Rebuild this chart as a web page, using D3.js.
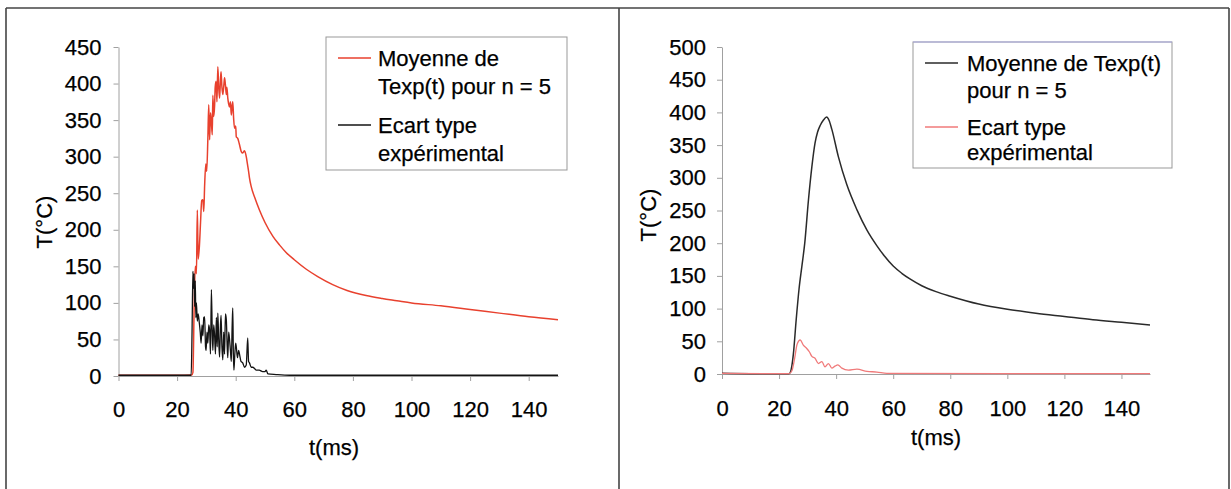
<!DOCTYPE html>
<html>
<head>
<meta charset="utf-8">
<script src="https://cdn.jsdelivr.net/npm/d3@7"></script>
<style>
  body { margin: 0; background: #fff; }
  svg { display: block; }
  text { font-family: "Liberation Sans", Arial, sans-serif; font-size: 22px; fill: #000; stroke: #000; stroke-width: 0.25px; }
  .axis path, .axis line { stroke: #a0a0a0; }
</style>
</head>
<body>
<svg width="1231" height="489"></svg>
<script>
// tick values
const ticksX = [0, 20, 40, 60, 80, 100, 120, 140];
const ticksYLeft = [0, 50, 100, 150, 200, 250, 300, 350, 400, 450];
const ticksYRight = [0, 50, 100, 150, 200, 250, 300, 350, 400, 450, 500];

// left chart : mean (red, noisy) - [t (ms), T (°C)]
const meanLeft = [
  [0, 1], [10, 1], [20, 1], [25, 1.5], [25.4, 5], [25.8, 90], [26.2, 150], [26.6, 140],
  [26.9, 227], [27.2, 160], [27.6, 177], [28.0, 210], [28.4, 240], [28.8, 241], [29.1, 225],
  [29.4, 261], [29.8, 290], [30.1, 280], [30.5, 325], [30.8, 371], [31.1, 323], [31.4, 360],
  [31.7, 348], [32.0, 330], [32.2, 384], [32.5, 355], [32.8, 370], [33.0, 395], [33.3, 403],
  [33.6, 375], [33.9, 423], [34.2, 395], [34.5, 380], [34.8, 405], [35.0, 416], [35.3, 395],
  [35.6, 385], [36.0, 400], [36.2, 408], [36.5, 398], [36.8, 385], [37.0, 395], [37.3, 380],
  [37.6, 372], [37.9, 368], [38.2, 375], [38.5, 357], [38.8, 370], [39.0, 375], [39.3, 352],
  [39.6, 339], [40.0, 342], [40.2, 327], [40.7, 325], [41.2, 318], [41.9, 307], [42.4, 305],
  [43.0, 308], [43.6, 300], [44.0, 290], [44.4, 280], [44.7, 271], [45.3, 259], [46.5, 244],
  [48.1, 227], [50, 210], [52.7, 191], [55, 179], [57.2, 169], [60, 159], [64.1, 146],
  [68, 136], [73.1, 125], [78, 117], [84.5, 110], [90, 106], [95, 103], [100, 100],
  [110, 96], [120, 91], [130, 86], [140, 81], [150, 77]
];

// left chart : standard deviation (black, noisy)
const stdLeft = [
  [0, 1], [24.8, 1], [25.1, 60], [25.4, 143], [25.6, 120], [25.8, 140], [26.0, 95], [26.2, 130],
  [26.4, 80], [26.6, 100], [26.9, 75], [27.2, 85], [27.6, 72], [27.9, 60], [28.2, 45], [28.5, 70],
  [28.8, 55], [29.1, 80], [29.4, 81], [29.7, 40], [29.9, 35], [30.2, 60], [30.5, 45], [30.8, 70],
  [31.1, 62], [31.4, 30], [31.7, 118], [32.0, 60], [32.2, 35], [32.5, 70], [32.8, 55], [33.1, 30],
  [33.4, 80], [33.7, 40], [33.9, 86], [34.2, 50], [34.5, 26], [34.8, 70], [35.0, 83], [35.3, 40],
  [35.6, 22], [35.9, 60], [36.2, 30], [36.5, 85], [36.8, 77], [37.1, 40], [37.3, 25], [37.6, 60],
  [37.9, 50], [38.2, 35], [38.5, 20], [38.8, 70], [39.0, 93], [39.2, 30], [39.4, 8], [39.7, 30],
  [40.0, 45], [40.2, 40], [40.6, 25], [41.0, 35], [41.3, 30], [41.8, 20], [42.4, 18], [43.0, 12],
  [43.6, 15], [44.1, 52], [44.4, 20], [44.7, 18], [45.3, 12], [45.8, 12], [46.5, 10], [47.0, 8],
  [48.0, 8], [49.2, 6], [50.0, 6], [50.4, 8], [51, 3], [53.8, 2], [58.4, 1], [150, 1]
];

// right chart : mean (black, smooth)
const meanRight = [
  [0, 1], [10, 0.5], [23.5, 0.5], [24, 3], [25, 30], [26, 83], [27, 130], [28, 165], [29, 200],
  [30.3, 266], [31.5, 317], [32.6, 353], [33.5, 370], [34.4, 380], [35.5, 388], [36.7, 393],
  [37.5, 388], [38.5, 374], [40.8, 332], [43.7, 290], [47.3, 251], [50.8, 220], [54.3, 196],
  [57, 180], [60, 165], [63, 154], [66, 145], [70, 135], [75, 126], [80, 119], [90, 107],
  [100, 99], [110, 93], [120, 88], [130, 83], [140, 79], [150, 75]
];

// right chart : standard deviation (light red)
const stdRight = [
  [0, 1], [23.5, 0.5], [24.5, 5], [25.5, 25], [26.3, 45], [27.4, 52], [28.5, 44], [29.7, 39],
  [30.6, 34], [31.5, 27], [32.6, 24], [33.8, 16], [35.0, 19], [36.1, 11], [37.3, 16], [38.5, 9],
  [39.6, 12], [40.6, 14], [42.0, 9], [44.3, 6], [47.3, 7.5], [50.8, 4], [54.3, 3], [57.8, 1], [150, 0.5]
];

const svg = d3.select("svg");

// panel frames
const frame = svg.append("g").attr("fill", "none").attr("stroke", "#444").attr("stroke-width", 1.6);
frame.append("line").attr("x1", 6).attr("x2", 1229).attr("y1", 8).attr("y2", 8);
[6, 619, 1229].forEach((x) => {
  frame.append("line").attr("x1", x).attr("x2", x).attr("y1", 8).attr("y2", 489);
});

const drawPanel = (p) => {
  const scaleX = d3.scaleLinear().domain([0, 150]).range(p.rangeX);
  const scaleY = d3.scaleLinear().domain([0, p.maxY]).range(p.rangeY);

  //prettier-ignore
  svg.append("g")
    .attr("class", "axis")
    .attr("transform", `translate(0,${p.rangeY[0]})`)
    .call(d3.axisBottom(scaleX).tickValues(ticksX).tickSize(5).tickSizeOuter(0).tickPadding(p.padX))
    .call((g) => g.selectAll("text").attr("font-size", null).attr("font-family", null).attr("fill", null));

  //prettier-ignore
  svg.append("g")
    .attr("class", "axis")
    .attr("transform", `translate(${p.rangeX[0]},0)`)
    .call(d3.axisLeft(scaleY).tickValues(p.ticksY).tickSize(5).tickSizeOuter(0).tickPadding(p.padY))
    .call((g) => g.selectAll("text").attr("font-size", null).attr("font-family", null).attr("fill", null));

  //prettier-ignore
  const line = d3.line()
    .curve(d3.curveMonotoneX)
    .x((d) => scaleX(d[0]))
    .y((d) => scaleY(d[1]));

  p.series.forEach((s) => {
    //prettier-ignore
    svg.append("path")
      .datum(s.data)
      .attr("fill", "none")
      .attr("stroke", s.color)
      .attr("stroke-width", s.width)
      .attr("stroke-linejoin", "round")
      .attr("d", line);
  });

  // axis titles
  //prettier-ignore
  svg.append("text")
    .attr("text-anchor", "middle")
    .attr("dominant-baseline", "central")
    .attr("transform", `translate(${p.titleY[0]},${p.titleY[1]}) rotate(-90)`)
    .text("T(°C)");

  //prettier-ignore
  svg.append("text")
    .attr("text-anchor", "middle")
    .attr("dominant-baseline", "central")
    .attr("x", p.titleX[0])
    .attr("y", p.titleX[1])
    .text("t(ms)");

  // legend
  const lg = p.legend;
  //prettier-ignore
  svg.append("rect")
    .attr("x", lg.x).attr("y", lg.y)
    .attr("width", lg.w).attr("height", lg.h)
    .attr("fill", "#fff")
    .attr("stroke", "#999");
  if (lg.topColor) {
    svg.append("line").attr("x1", lg.x).attr("x2", lg.x + lg.w).attr("y1", lg.y).attr("y2", lg.y).attr("stroke", lg.topColor);
  }
  p.series.forEach((s, i) => {
    const rowY = lg.rows[i * 2];
    //prettier-ignore
    svg.append("line")
      .attr("x1", lg.x + 12).attr("x2", lg.x + 45)
      .attr("y1", rowY).attr("y2", rowY)
      .attr("stroke", s.color)
      .attr("stroke-width", s.width);
  });
  lg.labels.forEach((t, i) => {
    //prettier-ignore
    svg.append("text")
      .attr("x", lg.textX)
      .attr("y", lg.rows[i])
      .attr("dominant-baseline", "central")
      .text(t);
  });
};

drawPanel({
  rangeX: [118.5, 558],
  rangeY: [376, 47],
  maxY: 450,
  ticksY: ticksYLeft,
  padX: 20,
  padY: 12,
  titleY: [44, 222],
  titleX: [334, 447],
  series: [
    { data: meanLeft, color: "#e8412e", width: 1.5 },
    { data: stdLeft, color: "#141414", width: 1.3 }
  ],
  legend: {
    x: 326, y: 37, w: 241, h: 133, textX: 378,
    rows: [58, 86, 125, 153],
    labels: ["Moyenne de", "Texp(t) pour n = 5", "Ecart type", "expérimental"]
  }
});

drawPanel({
  rangeX: [722, 1150],
  rangeY: [374, 47],
  maxY: 500,
  ticksY: ticksYRight,
  padX: 21,
  padY: 11,
  titleY: [648, 215],
  titleX: [936, 437],
  series: [
    { data: meanRight, color: "#2a2a2a", width: 1.5 },
    { data: stdRight, color: "#f07a7a", width: 1.3 }
  ],
  legend: {
    x: 913, y: 42, w: 259, h: 126, textX: 967, topColor: "#a9a9e0",
    rows: [63, 90, 127, 152],
    labels: ["Moyenne de Texp(t)", "pour n = 5", "Ecart type", "expérimental"]
  }
});
</script>
</body>
</html>
